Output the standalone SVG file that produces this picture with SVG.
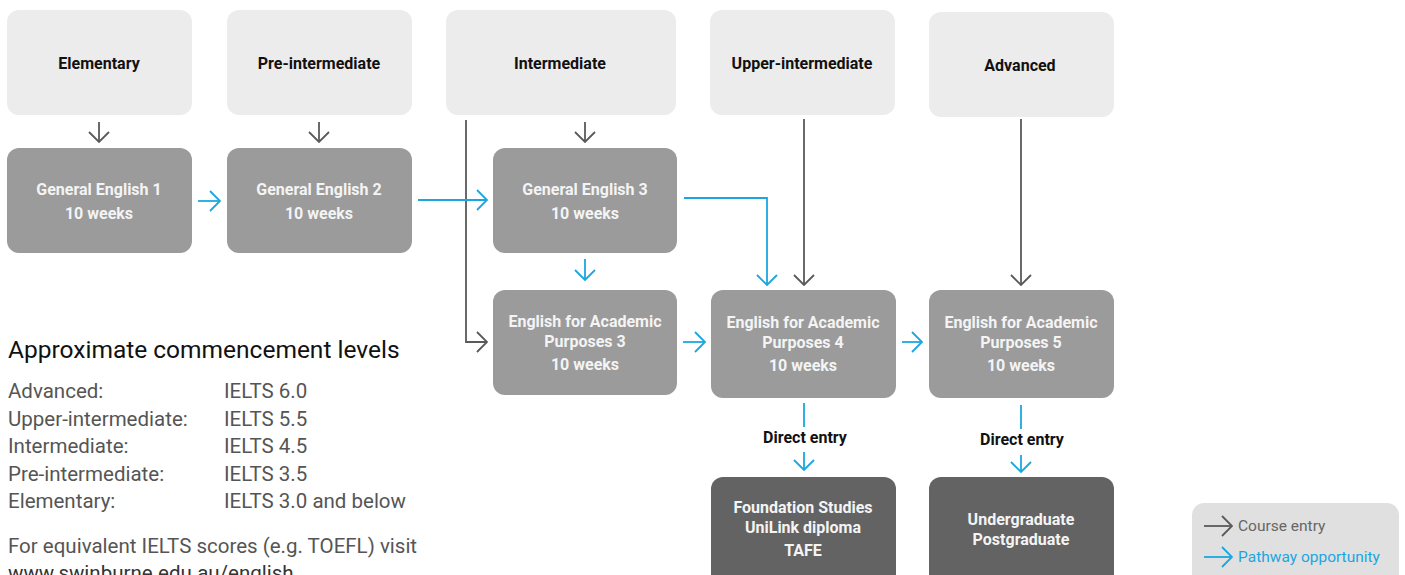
<svg xmlns="http://www.w3.org/2000/svg" width="1405" height="575" viewBox="0 0 1405 575">
<style>
.lt{fill:#ececec}
.md{fill:#9b9b9b}
.dk{fill:#636363}
text{font-family:Roboto,"Liberation Sans",sans-serif}
.tl{font-size:16px;font-weight:bold;fill:#111;text-anchor:middle}
.tw{font-size:16px;font-weight:bold;fill:#f4f4f4;text-anchor:middle}
.tb{font-size:16px;font-weight:bold;fill:#111;text-anchor:middle}
.g{fill:none;stroke:#5a5a5a;stroke-width:1.8;marker-end:url(#ag)}
.b{fill:none;stroke:#1aa7e0;stroke-width:1.8;marker-end:url(#ab)}
.bl{fill:none;stroke:#1aa7e0;stroke-width:1.8}
.lv{font-size:20.5px;fill:#555}
</style>
<defs>
<marker id="ag" viewBox="0 0 12 22" refX="11" refY="11" markerWidth="12" markerHeight="22" orient="auto" markerUnits="userSpaceOnUse"><path d="M1,1 L11,11 L1,21" fill="none" stroke="#5a5a5a" stroke-width="1.8"/></marker>
<marker id="ab" viewBox="0 0 12 22" refX="11" refY="11" markerWidth="12" markerHeight="22" orient="auto" markerUnits="userSpaceOnUse"><path d="M1,1 L11,11 L1,21" fill="none" stroke="#1aa7e0" stroke-width="1.8"/></marker>
</defs>
<rect width="1405" height="575" fill="#fff"/>

<g id="elementary"><rect class="lt" x="7" y="10" width="185" height="105" rx="12"/><text class="tl" x="99" y="69">Elementary</text></g>
<g id="preintermediate"><rect class="lt" x="227" y="10" width="185" height="105" rx="12"/><text class="tl" x="319" y="69">Pre-intermediate</text></g>
<g id="intermediate"><rect class="lt" x="446" y="10" width="230" height="105" rx="12"/><text class="tl" x="560" y="69">Intermediate</text></g>
<g id="upperintermediate"><rect class="lt" x="710" y="10" width="185" height="105" rx="12"/><text class="tl" x="802" y="69">Upper-intermediate</text></g>
<g id="advanced"><rect class="lt" x="929" y="12" width="185" height="105" rx="12"/><text class="tl" x="1020" y="71">Advanced</text></g>

<g id="ge1"><rect class="md" x="7" y="148" width="185" height="105" rx="12"/><text class="tw" x="99" y="195">General English 1</text><text class="tw" x="99" y="219">10 weeks</text></g>
<g id="ge2"><rect class="md" x="227" y="148" width="185" height="105" rx="12"/><text class="tw" x="319" y="195">General English 2</text><text class="tw" x="319" y="219">10 weeks</text></g>
<g id="ge3"><rect class="md" x="493" y="148" width="184" height="105" rx="12"/><text class="tw" x="585" y="195">General English 3</text><text class="tw" x="585" y="219">10 weeks</text></g>

<g id="eap3"><rect class="md" x="493" y="290" width="184" height="105" rx="12"/><text class="tw" x="585" y="327">English for Academic</text><text class="tw" x="585" y="347">Purposes 3</text><text class="tw" x="585" y="370">10 weeks</text></g>
<g id="eap4"><rect class="md" x="711" y="290" width="185" height="108" rx="12"/><text class="tw" x="803" y="328">English for Academic</text><text class="tw" x="803" y="348">Purposes 4</text><text class="tw" x="803" y="371">10 weeks</text></g>
<g id="eap5"><rect class="md" x="929" y="290" width="185" height="108" rx="12"/><text class="tw" x="1021" y="328">English for Academic</text><text class="tw" x="1021" y="348">Purposes 5</text><text class="tw" x="1021" y="371">10 weeks</text></g>

<g id="foundation"><rect class="dk" x="711" y="477" width="185" height="115" rx="12"/><text class="tw" x="803" y="513">Foundation Studies</text><text class="tw" x="803" y="533">UniLink diploma</text><text class="tw" x="803" y="556">TAFE</text></g>
<g id="undergraduate"><rect class="dk" x="929" y="477" width="185" height="115" rx="12"/><text class="tw" x="1021" y="525">Undergraduate</text><text class="tw" x="1021" y="545">Postgraduate</text></g>

<g id="connectors">
<path class="g" d="M99,122 V142"/>
<path class="g" d="M319,122 V142"/>
<path class="g" d="M585,122 V142"/>
<path class="g" d="M466,120 V342 H487"/>
<path class="g" d="M804,119 V285"/>
<path class="g" d="M1021,119 V285"/>
<path class="b" d="M198,201 H220"/>
<path class="b" d="M418,200 H487"/>
<path class="b" d="M585,259 V280"/>
<path class="b" d="M684,198 H767 V285"/>
<path class="b" d="M683,342 H705"/>
<path class="b" d="M902,342 H922"/>
<path class="bl" d="M804,403 V427"/>
<path class="b" d="M804,452 V470"/>
<path class="bl" d="M1021,405 V429"/>
<path class="b" d="M1021,455 V472"/>
<text class="tb" x="805" y="443">Direct entry</text>
<text class="tb" x="1022" y="445">Direct entry</text>
</g>

<g id="levels">
<text x="8" y="358" style="font-size:24.5px;fill:#111">Approximate commencement levels</text>
<text class="lv" x="8" y="398">Advanced:</text><text class="lv" x="224" y="398">IELTS 6.0</text>
<text class="lv" x="8" y="426">Upper-intermediate:</text><text class="lv" x="224" y="426">IELTS 5.5</text>
<text class="lv" x="8" y="453">Intermediate:</text><text class="lv" x="224" y="453">IELTS 4.5</text>
<text class="lv" x="8" y="481">Pre-intermediate:</text><text class="lv" x="224" y="481">IELTS 3.5</text>
<text class="lv" x="8" y="508">Elementary:</text><text class="lv" x="224" y="508">IELTS 3.0 and below</text>
<text class="lv" x="8" y="553">For equivalent IELTS scores (e.g. TOEFL) visit</text>
<text x="8" y="580" style="font-size:20.5px;fill:#333">www.swinburne.edu.au/english</text>
</g>

<g id="legend">
<rect x="1192" y="503" width="207" height="85" rx="12" fill="#e0e0e0"/>
<path d="M1204,526 H1232" fill="none" stroke="#5a5a5a" stroke-width="1.8" marker-end="url(#ag)"/>
<text x="1238" y="531" style="font-size:15.5px;fill:#666">Course entry</text>
<path d="M1204,557 H1232" fill="none" stroke="#1aa7e0" stroke-width="1.8" marker-end="url(#ab)"/>
<text x="1238" y="562" style="font-size:15.5px;fill:#1aa7e0">Pathway opportunity</text>
</g>
</svg>
